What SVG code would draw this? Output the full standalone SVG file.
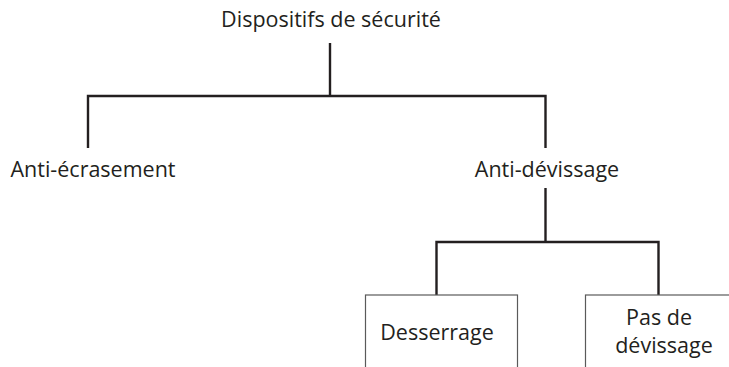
<svg xmlns="http://www.w3.org/2000/svg" width="729" height="367" viewBox="0 0 729 367">
  <style>
    .lbl { font-family: "Open Sans", "Liberation Sans", sans-serif; font-size: 21.5px; fill: #231f20; text-anchor: middle; }
    .wire { fill: none; stroke: #231f20; stroke-width: 2.4; stroke-linecap: butt; stroke-linejoin: miter; }
    .box { fill: #ffffff; stroke: #5a5a5a; stroke-width: 1.2; }
  </style>
  <rect width="729" height="367" fill="#ffffff"/>

  <g id="connectors">
    <!-- root to first level -->
    <path class="wire" d="M330 43 V96"/>
    <path class="wire" d="M88 148 V96 H545.5 V148"/>
    <!-- Anti-dévissage to its children -->
    <path class="wire" d="M545.5 188 V242"/>
    <path class="wire" d="M436.5 295 V242 H658.5 V295"/>
  </g>

  <g id="root">
    <text class="lbl" x="331" y="27">Dispositifs de sécurité</text>
  </g>

  <g id="anti-ecrasement">
    <text class="lbl" x="93" y="177">Anti-écrasement</text>
  </g>

  <g id="anti-devissage">
    <text class="lbl" x="547" y="177">Anti-dévissage</text>
  </g>

  <g id="desserrage">
    <rect class="box" x="365.5" y="295" width="152" height="80"/>
    <text class="lbl" x="437" y="340">Desserrage</text>
  </g>

  <g id="pas-de-devissage">
    <rect class="box" x="585.5" y="295" width="152" height="80"/>
    <text class="lbl" x="659" y="325">Pas de</text>
    <text class="lbl" x="664" y="353">dévissage</text>
  </g>
</svg>
